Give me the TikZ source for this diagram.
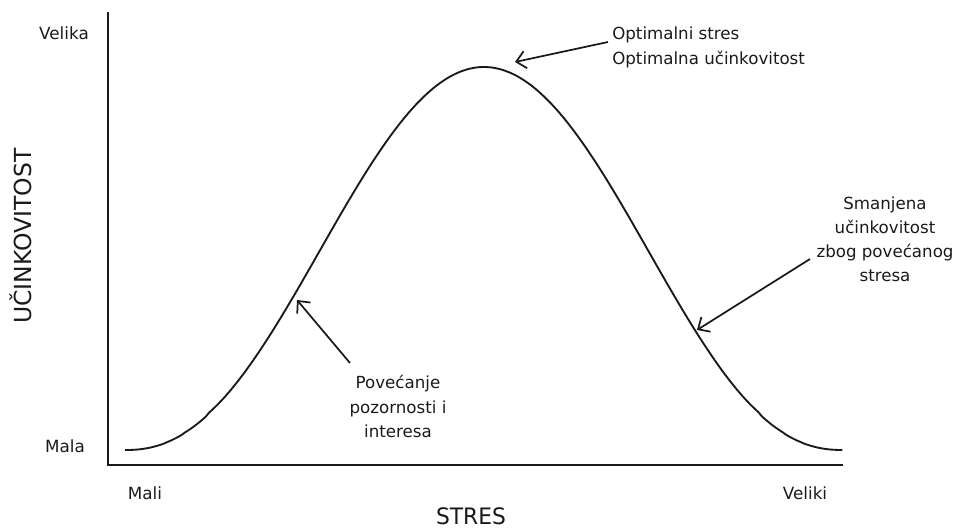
\documentclass[tikz,border=0pt]{standalone}
\usepackage{fontspec}
\usepackage{graphicx}
\setmainfont{DejaVu Sans}
\usetikzlibrary{arrows.meta}
\definecolor{ink}{HTML}{1A1A1A}
\tikzset{
  axis/.style={line width=1.6pt, ink},
  curve/.style={line width=1.4pt, ink},
  pointer/.style={line width=1.3pt, ink, -{Straight Barb[length=7pt, width=13pt, line width=1.3pt]}},
  lbl/.style={text=ink, inner sep=0pt, font=\fontsize{12.5}{18.4}\selectfont},
  ticklbl/.style={text=ink, inner sep=0pt, font=\fontsize{12.6}{14}\selectfont},
}
\begin{document}
\begin{tikzpicture}[x=0.75pt, y=-0.75pt]
  \useasboundingbox (0,0) rectangle (953,529);
  % axes
  \coordinate (top) at (108,12);
  \coordinate (origin) at (108,465);
  \coordinate (right) at (843,465);
  \draw[axis] (top) -- (origin) -- (right);
  % bell curve of performance against stress
  \draw[curve] plot[domain=-1:1, samples=240, smooth]
    ({484+359*\x}, {450-383*(max((1+cos(180*\x))/2,0.00001))^1.15});
  % axis labels
  \node[ticklbl] (velika) at (64,33) {Velika};
  \node[ticklbl] (mala) at (65,446) {Mala};
  \node[text=ink, inner sep=0pt, rotate=90, font=\fontsize{17.6}{19}\selectfont] (yname) at (21,236) {UČINKOVITOST};
  \node[ticklbl] (mali) at (145,493) {Mali};
  \node[ticklbl] (veliki) at (805,493) {Veliki};
  \node[text=ink, inner sep=0pt, anchor=base, font=\fontsize{17}{19}\selectfont] (xname) at (471,524) {\scalebox{0.96}[1]{STRES}};
  % annotations
  \node[lbl, anchor=north west, align=left] (peak) at (612,27) {Optimalni stres\\Optimalna učinkovitost};
  \node[lbl, align=center, anchor=north] (rise) at (398,375) {Povećanje\\pozornosti i\\interesa};
  \node[lbl, align=center, anchor=north, font=\fontsize{12.5}{17.8}\selectfont] (fall) at (885,197) {Smanjena\\učinkovitost\\zbog povećanog\\stresa};
  % pointers onto the curve
  \coordinate (peakfrom) at (608,42);
  \coordinate (peakto) at (515,62);
  \coordinate (risefrom) at (350,363);
  \coordinate (riseto) at (297,300);
  \coordinate (fallfrom) at (810,259);
  \coordinate (fallto) at (697,330);
  \draw[pointer] (peakfrom) -- (peakto);
  \draw[pointer] (risefrom) -- (riseto);
  \draw[pointer] (fallfrom) -- (fallto);
\end{tikzpicture}
\end{document}
